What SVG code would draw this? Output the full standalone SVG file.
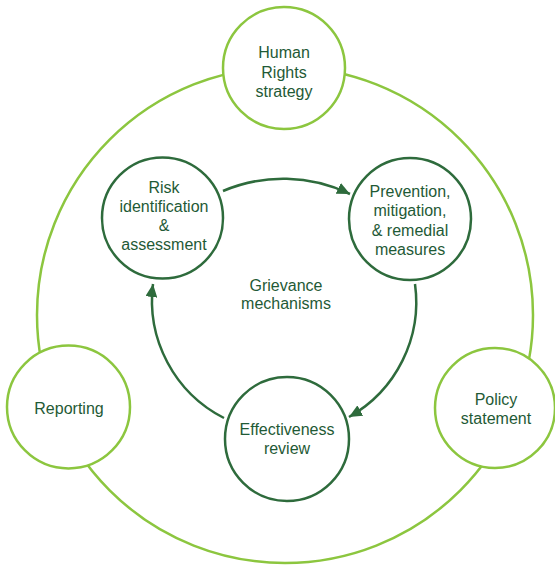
<svg xmlns="http://www.w3.org/2000/svg" width="555" height="565" viewBox="0 0 555 565">
<style>
.outer{fill:none;stroke:#8cc63f;stroke-width:2.5}
.lg{fill:#fff;stroke:#8cc63f;stroke-width:2.5}
.dg{fill:#fff;stroke:#2e6b3c;stroke-width:2.5}
.arr{fill:none;stroke:#2e6b3c;stroke-width:2.5;marker-end:url(#ah)}
text{font-family:"Liberation Sans",Arial,sans-serif;font-size:16px;fill:#1f5a36;text-anchor:middle}
</style>
<defs>
<marker id="ah" markerUnits="userSpaceOnUse" markerWidth="14" markerHeight="12" refX="13" refY="6" orient="auto">
<path d="M0,0 L13,6 L0,12 z" fill="#2e6b3c"/>
</marker>
</defs>
<rect width="555" height="565" fill="#fff"/>
<circle class="outer" cx="285" cy="315" r="248"/>
<g id="connectors">
<path class="arr" d="M223,191 A154,154 0 0 1 350,194"/>
<path class="arr" d="M415,284 A132,132 0 0 1 349,417"/>
<path class="arr" d="M224,418 A132,132 0 0 1 153,284"/>
</g>
<g id="human-rights">
<circle class="lg" cx="284" cy="68" r="61"/>
<text x="284" y="58">Human</text>
<text x="284" y="78">Rights</text>
<text x="284" y="97">strategy</text>
</g>
<g id="reporting">
<circle class="lg" cx="68.5" cy="407" r="61.5"/>
<text x="69" y="414">Reporting</text>
</g>
<g id="policy">
<circle class="lg" cx="495" cy="408" r="60"/>
<text x="496" y="405">Policy</text>
<text x="496" y="424">statement</text>
</g>
<g id="risk">
<circle class="dg" cx="162.5" cy="218" r="60.5"/>
<text x="164" y="193">Risk</text>
<text x="164" y="212">identification</text>
<text x="164" y="231">&amp;</text>
<text x="164" y="250">assessment</text>
</g>
<g id="prevention">
<circle class="dg" cx="410" cy="219" r="61"/>
<text x="410" y="197">Prevention,</text>
<text x="410" y="216">mitigation,</text>
<text x="410" y="236">&amp; remedial</text>
<text x="410" y="255">measures</text>
</g>
<g id="effectiveness">
<circle class="dg" cx="287" cy="439" r="62"/>
<text x="287" y="435">Effectiveness</text>
<text x="287" y="454">review</text>
</g>
<g id="grievance">
<text x="286" y="291">Grievance</text>
<text x="286" y="309">mechanisms</text>
</g>
</svg>
